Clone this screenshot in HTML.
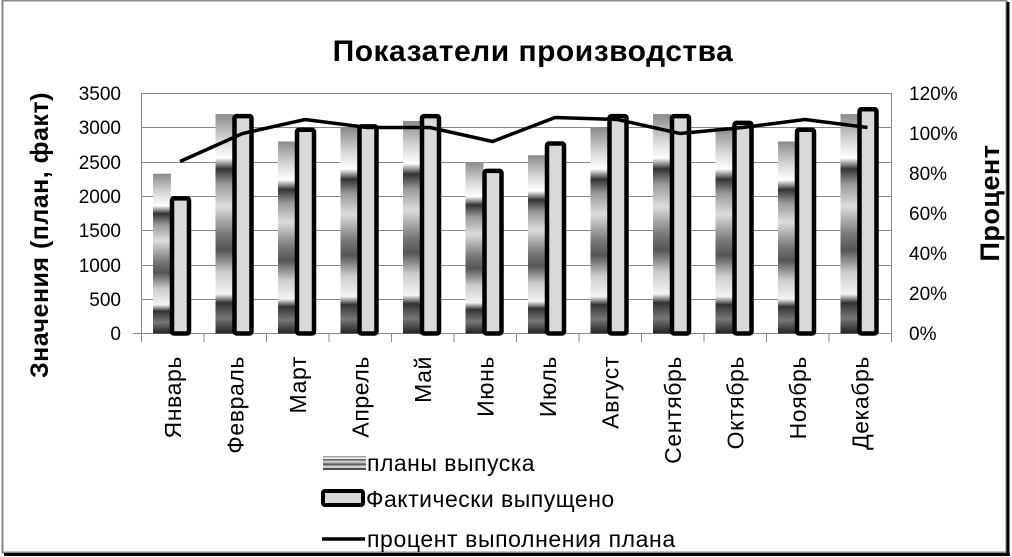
<!DOCTYPE html>
<html><head><meta charset="utf-8"><style>
html,body{margin:0;padding:0;background:#fff;}
svg{display:block;font-family:"Liberation Sans",sans-serif;}
</style></head><body>
<svg width="1012" height="557" viewBox="0 0 1012 557">
<defs>
<linearGradient id="pg" x1="0" y1="0" x2="0" y2="1">
<stop offset="0" stop-color="#8a8a8a"/>
<stop offset="0.12" stop-color="#d8d8d8"/>
<stop offset="0.2" stop-color="#fff"/>
<stop offset="0.25" stop-color="#333"/>
<stop offset="0.32" stop-color="#999"/>
<stop offset="0.42" stop-color="#ddd"/>
<stop offset="0.55" stop-color="#777"/>
<stop offset="0.62" stop-color="#555"/>
<stop offset="0.72" stop-color="#ccc"/>
<stop offset="0.82" stop-color="#f4f4f4"/>
<stop offset="0.86" stop-color="#333"/>
<stop offset="0.93" stop-color="#777"/>
<stop offset="1" stop-color="#222"/>
</linearGradient>
</defs>
<rect x="0" y="0" width="1012" height="557" fill="#fff"/>
<rect x="2.5" y="0.5" width="1004" height="552" fill="none" stroke="#888" stroke-width="2"/>
<line x1="1008" y1="2" x2="1008" y2="555" stroke="#000" stroke-width="3"/>
<line x1="4" y1="554.5" x2="1010" y2="554.5" stroke="#000" stroke-width="3"/>
<text x="533" y="61" font-size="30" font-weight="bold" text-anchor="middle" letter-spacing="0.5">Показатели производства</text>
<g stroke="#888" stroke-width="1">
<line x1="141" y1="93.5" x2="891" y2="93.5"/>
<line x1="141" y1="127.5" x2="891" y2="127.5"/>
<line x1="141" y1="162.5" x2="891" y2="162.5"/>
<line x1="141" y1="196.5" x2="891" y2="196.5"/>
<line x1="141" y1="230.5" x2="891" y2="230.5"/>
<line x1="141" y1="265.5" x2="891" y2="265.5"/>
<line x1="141" y1="299.5" x2="891" y2="299.5"/>
<line x1="133" y1="333.5" x2="891" y2="333.5"/>
<line x1="141.5" y1="93" x2="141.5" y2="342"/>
<line x1="891.5" y1="93" x2="891.5" y2="334"/>
</g>
<g stroke="#888" id="ticks"></g>
<g font-size="19" text-anchor="end" fill="#000">
<text x="121" y="100">3500</text><text x="121" y="134">3000</text><text x="121" y="169">2500</text><text x="121" y="203">2000</text><text x="121" y="237">1500</text><text x="121" y="272">1000</text><text x="121" y="306">500</text><text x="121" y="340">0</text>
</g>
<g font-size="19" fill="#000">
<text x="909" y="100">120%</text><text x="909" y="140">100%</text><text x="909" y="180">80%</text><text x="909" y="220">60%</text><text x="909" y="260">40%</text><text x="909" y="300">20%</text><text x="909" y="340">0%</text>
</g>
<text transform="translate(48,235) rotate(-90)" font-size="25" font-weight="bold" text-anchor="middle" letter-spacing="0.5">Значения (план, факт)</text>
<text transform="translate(999,203) rotate(-90)" font-size="27" font-weight="bold" text-anchor="middle" letter-spacing="0.5">Процент</text>
<g id="bars"></g>
<g id="labels" font-size="23" letter-spacing="0.6"></g>
<polyline id="pl" fill="none" stroke="#000" stroke-width="3.5" points=""/>
<rect x="323" y="456" width="43" height="14" fill="url(#pg)"/>
<text x="367" y="471" font-size="23" letter-spacing="0.5">планы выпуска</text>
<rect x="323" y="491" width="40" height="14" fill="#d9d9d9" stroke="#000" stroke-width="4" rx="2"/>
<text x="366" y="507" font-size="23" letter-spacing="0.5">Фактически выпущено</text>
<line x1="322" y1="539" x2="365" y2="539" stroke="#000" stroke-width="3.5"/>
<text x="367" y="547" font-size="23" letter-spacing="0.6">процент выполнения плана</text>
</svg>
<script>
var ns="http://www.w3.org/2000/svg";
var plan=[2330,3200,2800,3000,3100,2500,2600,3000,3200,3000,2800,3200];
var fact=[2000,3200,3000,3050,3200,2400,2800,3200,3200,3100,3000,3300];
var pct=[86,100,107,103,103,96,108,107,100,103,107,103];
var m=["Январь","Февраль","Март","Апрель","Май","Июнь","Июль","Август","Сентябрь","Октябрь","Ноябрь","Декабрь"];
var y0=333.5,k=240/3500,cw=62.5,x0=141;
var bars=document.getElementById("bars"),lab=document.getElementById("labels"),tk=document.getElementById("ticks");
var pts=[];
function el(t,a,p){var e=document.createElementNS(ns,t);for(var i in a)e.setAttribute(i,a[i]);p.appendChild(e);return e;}
for(var i=0;i<12;i++){
 var cx=x0+i*cw;
 var ph=plan[i]*k;
 el("rect",{x:cx+12,y:y0-ph,width:18,height:ph,fill:"url(#pg)"},bars);
 var fh=fact[i]*k;
 el("rect",{x:cx+31,y:y0-fh+2,width:17,height:fh-2,fill:"#d9d9d9",stroke:"#000","stroke-width":4.5,rx:2},bars);
 el("line",{x1:cx+cw+0.5,y1:334,x2:cx+cw+0.5,y2:342,stroke:"#888"},tk);
 var t=el("text",{transform:"translate("+(cx+40)+",356) rotate(-90)","text-anchor":"end"},lab);
 t.textContent=m[i];
 pts.push((cx+39)+","+(y0-pct[i]*240/120));
}
document.getElementById("pl").setAttribute("points",pts.join(" "));
</script>
</body></html>
